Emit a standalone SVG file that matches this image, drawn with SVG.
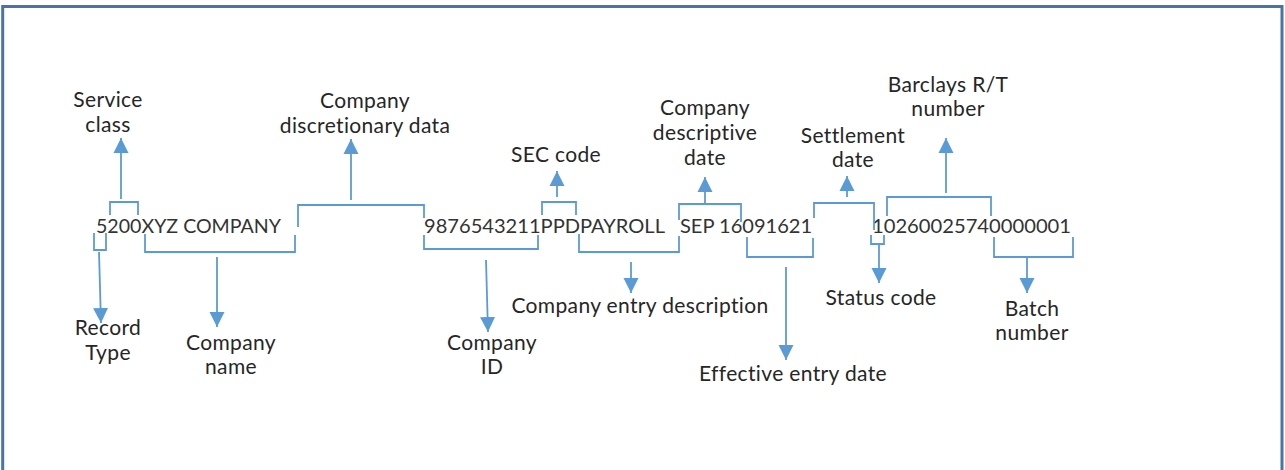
<svg xmlns="http://www.w3.org/2000/svg" width="1285" height="470" viewBox="0 0 1285 470">
  <style>
    .frame { fill: none; stroke: #4a74a6; stroke-width: 3; }
    .code { font-family: Lato, "Open Sans", sans-serif; font-size: 20px; fill: #333333; font-variant-ligatures: none; }
    .lbl { font-family: Lato, "Open Sans", sans-serif; font-size: 21px; letter-spacing: 0.35px; fill: #262626; text-anchor: middle; font-variant-ligatures: none; }
    .br { fill: none; stroke: #5b9bd5; stroke-width: 1.8; }
    .ar { fill: none; stroke: #5b9bd5; stroke-width: 1.8; marker-end: url(#head); }
  </style>
  <defs>
    <marker id="head" markerUnits="userSpaceOnUse" markerWidth="16" markerHeight="16" viewBox="0 0 16 16" refX="15" refY="8" orient="auto">
      <path d="M0,0.5 L15,8 L0,15.5 Z" fill="#5b9bd5"/>
    </marker>
  </defs>

  <rect x="0" y="0" width="1285" height="470" fill="#ffffff"/>
  <!-- outer frame, open at the bottom edge -->
  <path class="frame" d="M2.7,475 V6.5 H1282 V475"/>

  <!-- the batch header record -->
  <g id="record">
    <text class="code" x="96" y="233" textLength="185" lengthAdjust="spacingAndGlyphs">5200XYZ COMPANY</text>
    <text class="code" x="424" y="233" textLength="241" lengthAdjust="spacingAndGlyphs">9876543211PPDPAYROLL</text>
    <text class="code" x="680" y="233" textLength="132" lengthAdjust="spacingAndGlyphs">SEP 16091621</text>
    <text class="code" x="872" y="233" textLength="199" lengthAdjust="spacingAndGlyphs">10260025740000001</text>
  </g>

  <g id="connectors">
    <!-- brackets -->
    <path class="br" d="M94,233 V250 H106 V233"/>
    <path class="br" d="M110,215 V202 H138 V215"/>
    <path class="br" d="M145,234 V252 H295 V235"/>
    <path class="br" d="M298,227 V205 H424 V218"/>
    <path class="br" d="M424,235 V249 H538 V235"/>
    <path class="br" d="M542,215 V202 H576 V215"/>
    <path class="br" d="M579,234 V252 H679 V236"/>
    <path class="br" d="M679,220 V204 H741 V222"/>
    <path class="br" d="M747,237 V257 H813 V238"/>
    <path class="br" d="M814,218 V203 H874 V230"/>
    <path class="br" d="M871,235 V244 H884 V235"/>
    <path class="br" d="M887,216 V197 H991 V216"/>
    <path class="br" d="M994,237 V257 H1073 V237"/>
    <!-- arrows -->
    <path class="ar" d="M121,199 V138"/>
    <path class="ar" d="M99,252 L101,323"/>
    <path class="ar" d="M217,257 V327"/>
    <path class="ar" d="M351,200 V139"/>
    <path class="ar" d="M486,260 L488,332"/>
    <path class="ar" d="M557,197 V171"/>
    <path class="ar" d="M631,262 V293"/>
    <path class="ar" d="M705,204 V177"/>
    <path class="ar" d="M786,267 V360"/>
    <path class="ar" d="M847,197 V176"/>
    <path class="ar" d="M879,245 V283"/>
    <path class="ar" d="M946,193 V138"/>
    <path class="ar" d="M1027,257 V293"/>
  </g>

  <g id="service-class"><text class="lbl" x="108" y="107">Service</text><text class="lbl" x="108" y="132">class</text></g>
  <g id="record-type"><text class="lbl" x="108" y="335">Record</text><text class="lbl" x="108" y="360">Type</text></g>
  <g id="company-name"><text class="lbl" x="231" y="350">Company</text><text class="lbl" x="231" y="374">name</text></g>
  <g id="discretionary-data"><text class="lbl" x="365" y="108">Company</text><text class="lbl" x="365" y="133">discretionary data</text></g>
  <g id="company-id"><text class="lbl" x="492" y="350">Company</text><text class="lbl" x="492" y="374">ID</text></g>
  <g id="sec-code"><text class="lbl" x="556" y="162">SEC code</text></g>
  <g id="entry-description"><text class="lbl" x="640" y="313">Company entry description</text></g>
  <g id="descriptive-date"><text class="lbl" x="705" y="115">Company</text><text class="lbl" x="705" y="140">descriptive</text><text class="lbl" x="705" y="165">date</text></g>
  <g id="effective-date"><text class="lbl" x="793" y="381">Effective entry date</text></g>
  <g id="settlement-date"><text class="lbl" x="853" y="143">Settlement</text><text class="lbl" x="853" y="167">date</text></g>
  <g id="status-code"><text class="lbl" x="881" y="305">Status code</text></g>
  <g id="rt-number"><text class="lbl" x="948" y="92">Barclays R/T</text><text class="lbl" x="948" y="116">number</text></g>
  <g id="batch-number"><text class="lbl" x="1032" y="316">Batch</text><text class="lbl" x="1032" y="340">number</text></g>
</svg>
